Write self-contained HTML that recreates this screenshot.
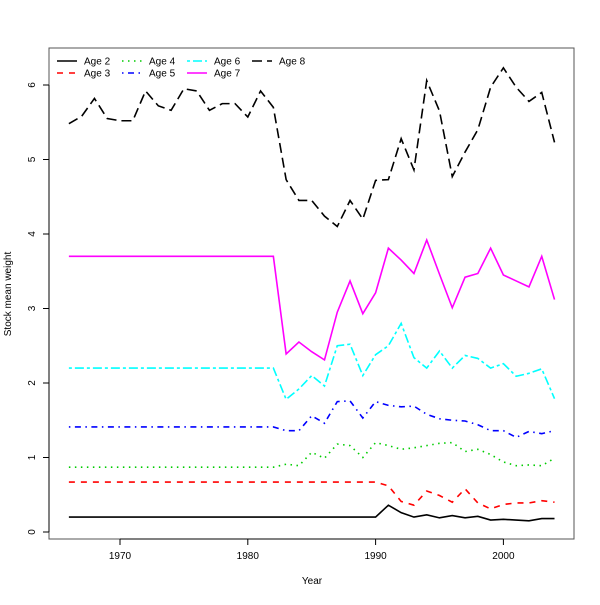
<!DOCTYPE html>
<html><head><meta charset="utf-8"><style>body{margin:0;background:#fff}svg{font-family:"Liberation Sans",sans-serif}</style></head>
<body>
<svg id="chart" width="600" height="600">
<rect x="49" y="48" width="525" height="491" fill="none" stroke="#555"/>
<g id="axes"></g><g id="series"></g><g id="legend"></g>
<text x="312" y="584" font-size="10" text-anchor="middle">Year</text>
<text transform="translate(11,294) rotate(-90)" font-size="10" text-anchor="middle">Stock mean weight</text>
</svg>
<script>
const years=[];for(let y=1966;y<=2004;y++)years.push(y);
function flat(v,n){return Array(n).fill(v);}
const age2=flat(0.20,25).concat([0.36,0.26,0.20,0.23,0.19,0.22,0.19,0.21,0.16,0.17,0.16,0.15,0.18,0.18]);
const age3=flat(0.67,25).concat([0.62,0.41,0.36,0.55,0.49,0.40,0.58,0.39,0.31,0.37,0.39,0.39,0.42,0.40]);
const age4=flat(0.87,17).concat([0.91,0.89,1.07,0.99,1.18,1.16,1.00,1.20,1.16,1.11,1.13,1.16,1.19,1.20,1.08,1.11,1.04,0.94,0.89,0.90,0.89,0.99]);
const age5=flat(1.41,17).concat([1.36,1.36,1.56,1.46,1.75,1.76,1.53,1.75,1.70,1.68,1.69,1.58,1.52,1.50,1.49,1.44,1.36,1.36,1.27,1.35,1.32,1.36]);
const age6=flat(2.20,17).concat([1.78,1.92,2.10,1.96,2.50,2.52,2.10,2.38,2.50,2.80,2.34,2.20,2.43,2.20,2.37,2.33,2.20,2.26,2.09,2.13,2.19,1.79]);
const age7=flat(3.70,17).concat([2.39,2.55,2.42,2.31,2.95,3.37,2.93,3.21,3.81,3.65,3.47,3.92,3.46,3.01,3.42,3.47,3.81,3.45,3.37,3.29,3.70,3.12]);
const age8=[5.48,5.58,5.82,5.55,5.52,5.52,5.92,5.72,5.66,5.95,5.92,5.66,5.75,5.75,5.57,5.92,5.70,4.73,4.45,4.45,4.24,4.10,4.45,4.20,4.72,4.73,5.28,4.86,6.06,5.65,4.77,5.10,5.40,5.97,6.23,5.97,5.78,5.90,5.23];
const xTicks=[1970,1980,1990,2000];
const yTicks=[0,1,2,3,4,5,6];
const seriesNames=["Age 2","Age 3","Age 4","Age 5","Age 6","Age 7","Age 8"];
const seriesData=[age2,age3,age4,age5,age6,age7,age8];
const colors=["#000","#f00","#0c0","#00f","#0ff","#f0f","#000"];
const dashes=["","6,6","1.5,4.5","1.5,4.5,6,4.5","3,3,9,3","","10,5"];
const X=y=>120+(y-1970)*12.78;
const Y=v=>532-v*74.5;
const NS="http://www.w3.org/2000/svg";
const ax=document.getElementById('axes');
function mk(tag,attrs,parent,text){const e=document.createElementNS(NS,tag);for(const k in attrs)e.setAttribute(k,attrs[k]);if(text!=null)e.textContent=text;parent.appendChild(e);return e;}
mk('line',{x1:X(1970),x2:X(2000),y1:539,y2:539,stroke:'#000'},ax);
xTicks.forEach(t=>{mk('line',{x1:X(t),x2:X(t),y1:539,y2:545,stroke:'#000'},ax);
const tx=mk('text',{x:X(t),y:559,'font-size':10,'text-anchor':'middle'},ax,t);

});
mk('line',{x1:49,x2:49,y1:Y(0),y2:Y(6),stroke:'#000'},ax);
yTicks.forEach(t=>{mk('line',{x1:43,x2:49,y1:Y(t),y2:Y(t),stroke:'#000'},ax);
const tx=mk('text',{transform:`translate(35,${Y(t)}) rotate(-90)`,'font-size':10,'text-anchor':'middle'},ax,t);

});
const sg=document.getElementById('series');
seriesData.forEach((d,i)=>{const p=mk('polyline',{points:d.map((v,j)=>X(years[j])+','+Y(v)).join(' '),fill:'none',stroke:colors[i],'stroke-width':1.6,'stroke-dasharray':dashes[i]},sg);

});
const lg=document.getElementById('legend');
const pos=[[57,61],[57,73],[122,61],[122,73],[187,61],[187,73],[252,61]];
seriesNames.forEach((n,i)=>{const g=mk('g',{},lg);


const [x,y]=pos[i];
mk('line',{x1:x,x2:x+20,y1:y,y2:y,stroke:colors[i],'stroke-width':1.6,'stroke-dasharray':dashes[i]},g);
mk('text',{x:x+27,y:y+3.5,'font-size':10},g,n);});
</script>
</body></html>
